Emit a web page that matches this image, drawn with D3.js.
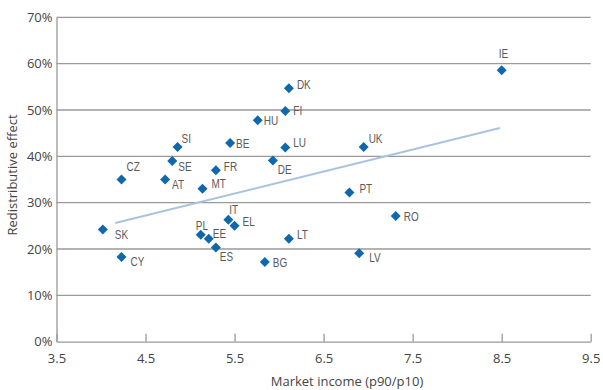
<!DOCTYPE html>
<html><head><meta charset="utf-8">
<script src="https://cdn.jsdelivr.net/npm/d3@7"></script>
<style>
body{margin:0;background:#fff;}
svg{display:block;}
</style></head>
<body>
<svg id="chart" width="603" height="390"></svg>
<script>
// ---- data ----
const countries = ["IE","DK","FI","HU","LU","UK","DE","SI","BE","SE","CZ","AT","FR","MT","SK","CY","IT","EL","PL","EE","ES","BG","LT","PT","RO","LV"];
const marketIncome = [8.50,6.11,6.07,5.76,6.07,6.95,5.93,4.86,5.45,4.80,4.23,4.72,5.29,5.14,4.02,4.23,5.43,5.50,5.12,5.21,5.29,5.84,6.11,6.79,7.31,6.90];
const redistributive = [58.6,54.7,49.8,47.8,41.9,42.0,39.1,42.0,42.9,39.0,35.0,35.0,37.0,33.0,24.2,18.3,26.3,25.0,23.1,22.2,20.3,17.2,22.2,32.2,27.1,19.1];
const trendX = [4.16, 8.48];
const trendY = [25.6, 46.1];
const xTicks = [3.5,4.5,5.5,6.5,7.5,8.5,9.5];
const yTicks = [0,10,20,30,40,50,60,70];
const xTitle = "Market income (p90/p10)";
const yTitle = "Redistributive effect";

// ---- layout (label offsets in px: [dx of text start, dy of text centre]) ----
const labelOffset = {
  IE:[-3,-17], DK:[8,-4], FI:[8,0], HU:[6,0], LU:[8,-5], UK:[5,-9], DE:[5,9],
  SI:[4,-9], BE:[6,1], SE:[6,5], CZ:[5,-13], AT:[7,5], FR:[8,-4], MT:[9,-5],
  SK:[12,5], CY:[9,5], IT:[1,-10], EL:[8,-4], PL:[-5,-9], EE:[4,-5], ES:[4,9],
  BG:[8,0], LT:[8,-4], PT:[10,-4], RO:[8,0], LV:[10,4]
};

const svg = d3.select("#chart");
const x = d3.scaleLinear().domain([3.5, 9.5]).range([56.5, 590.7]);
const y = d3.scaleLinear().domain([0, 70]).range([341.7, 17.3]);

const gridColor = "#9a9a9a";
const tickFont = "'Open Sans','Noto Sans',sans-serif";
const labelFont = "'Liberation Sans','DejaVu Sans',sans-serif";

// gridlines
svg.append("g").selectAll("line").data(yTicks.filter(d => d > 0)).join("line")
  .attr("x1", x(3.5)).attr("x2", x(9.5))
  .attr("y1", d => y(d)).attr("y2", d => y(d))
  .attr("stroke", gridColor).attr("stroke-width", 1.3);

// y axis
const yAxis = d3.axisLeft(y).tickValues(yTicks).tickFormat(d => d + "%").tickSize(0).tickPadding(4);
const gy = svg.append("g").attr("transform", `translate(${x(3.5)},0)`).call(yAxis);
gy.select(".domain").attr("stroke", gridColor).attr("stroke-width", 1.3);
gy.selectAll("text").attr("font-family", tickFont).attr("font-size", 13).attr("fill", "#444");

// x axis, ticks pointing up
const xAxis = d3.axisBottom(x).tickValues(xTicks).tickFormat(d3.format(".1f")).tickSizeInner(-8).tickSizeOuter(0).tickPadding(12);
const gx = svg.append("g").attr("transform", `translate(0,${y(0)})`).call(xAxis);
gx.select(".domain").attr("stroke", gridColor).attr("stroke-width", 1.3);
gx.selectAll(".tick line").attr("stroke", gridColor).attr("stroke-width", 1.3);
gx.selectAll("text").attr("font-family", tickFont).attr("font-size", 13).attr("fill", "#444");

// axis titles
svg.append("text").attr("x", 347).attr("y", 383).attr("text-anchor", "middle")
  .attr("dominant-baseline", "middle")
  .attr("font-family", tickFont).attr("font-size", 13).attr("fill", "#444").text(xTitle);
svg.append("text").attr("transform", "translate(14,175) rotate(-90)").attr("text-anchor", "middle")
  .attr("dominant-baseline", "middle")
  .attr("font-family", tickFont).attr("font-size", 13).attr("fill", "#444").text(yTitle);

// trend line
svg.append("line")
  .attr("x1", x(trendX[0])).attr("y1", y(trendY[0]))
  .attr("x2", x(trendX[1])).attr("y2", y(trendY[1]))
  .attr("stroke", "#a8c3e0").attr("stroke-width", 2);

// points
const pts = countries.map((c, i) => ({c, mx: marketIncome[i], r: redistributive[i]}));
const diamond = "M0,-5L5,0L0,5L-5,0Z";
svg.append("g").selectAll("path").data(pts).join("path")
  .attr("d", diamond)
  .attr("transform", d => `translate(${x(d.mx)},${y(d.r)})`)
  .attr("fill", "#1068ac");

// labels (condensed look via horizontal scale)
svg.append("g").selectAll("text").data(pts).join("text")
  .attr("transform", d => `translate(${x(d.mx) + labelOffset[d.c][0]},${y(d.r) + labelOffset[d.c][1]}) scale(0.74,1)`)
  .attr("dominant-baseline", "central")
  .attr("font-family", labelFont).attr("font-size", 13.5).attr("fill", "#5a5a5a")
  .text(d => d.c);
</script>
</body></html>
